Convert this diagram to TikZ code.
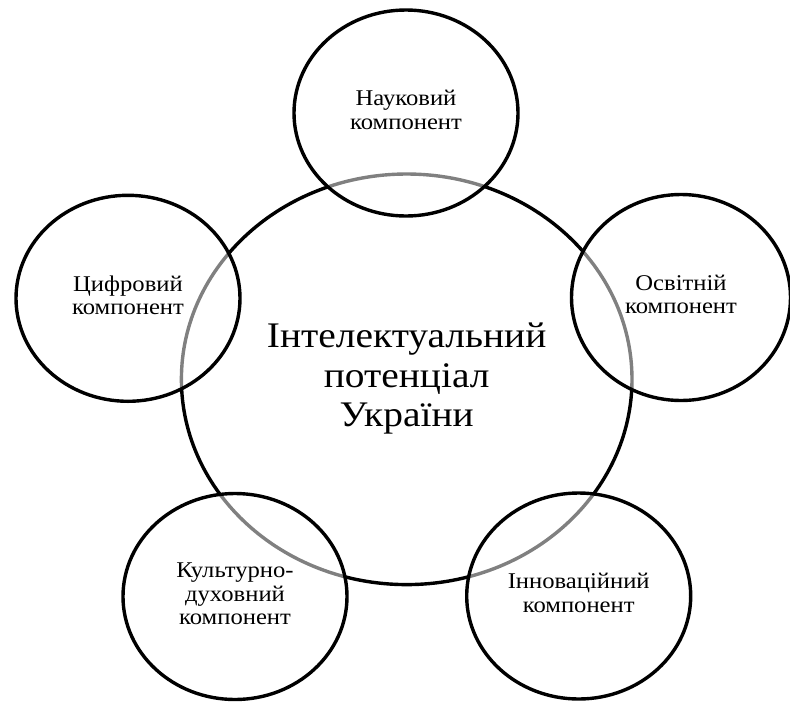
\documentclass[tikz,border=0pt]{standalone}
\usepackage{fontspec}
\setmainfont{Liberation Serif}
\usetikzlibrary{shapes.geometric}
\newcommand{\stretchlines}[1]{\scalebox{1.095}[1]{\begin{tabular}{@{}c@{}}#1\end{tabular}}}
\tikzset{
  ring/.style={ellipse, draw=black, line width=3.4pt, inner sep=0pt, align=center},
  part/.style={ring, fill=white, fill opacity=0.5, draw opacity=1, text opacity=1,
    minimum width=224pt, minimum height=206pt,
    font=\fontsize{22.5}{23.5}\selectfont},
  core/.style={ring, minimum width=450.6pt, minimum height=410.6pt,
    font=\fontsize{36}{39.5}\selectfont}
}
\begin{document}
\begin{tikzpicture}[x=1pt,y=-1pt]
\useasboundingbox (0,0) rectangle (790,702);
\node[core] (centre) at (406.7,379.3) {\stretchlines{Інтелектуальний\\потенціал\\України}};
\node[part] (nauk) at (406,113) {\stretchlines{Науковий\\компонент}};
\node[part, minimum width=219pt] (osv) at (681,297.5) {\stretchlines{Освітній\\компонент}};
\node[part] (tsyfr) at (128,298.3) {\stretchlines{Цифровий\\компонент}};
\node[part] (kult) at (235,596.5) {\stretchlines{Культурно-\\духовний\\компонент}};
\node[part] (innov) at (578.7,596) {\stretchlines{Інноваційний\\компонент}};
\end{tikzpicture}
\end{document}
